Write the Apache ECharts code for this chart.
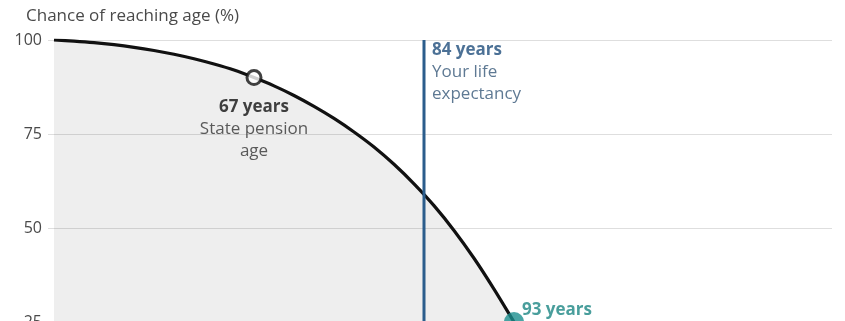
<!DOCTYPE html>
<html>
<head>
<meta charset="utf-8">
<script src="https://cdn.jsdelivr.net/npm/echarts@6/dist/echarts.min.js"></script>
<style>
html,body{margin:0;padding:0;background:#fff;}
#c{width:845px;height:321px;}
</style>
</head>
<body>
<div id="c"></div>
<script>
var ages = [47, 49, 51, 53, 55, 57, 59, 61, 63, 65, 67, 69, 71, 73, 75, 77, 79, 81, 83, 85, 87, 89, 91, 93, 95, 97, 99];
var chance = [100, 99.7, 99.3, 98.75, 98.05, 97.2, 96.2, 95.0, 93.6, 92.0, 90, 87.8, 85.25, 82.35, 79.15, 75.55, 71.55, 66.95, 61.75, 55.95, 49.35, 41.95, 33.75, 25, 16.2, 7.7, 1.7];
var yTicks = [0, 25, 50, 75, 100];
var pensionAge = 67, pensionChance = 90;
var lifeExp = 84;
var markAge = 93, markChance = 25;
var titleText = 'Chance of reaching age (%)';

var font = '"Open Sans", "Noto Sans", sans-serif';
var chart = echarts.init(document.getElementById('c'), null, {renderer: 'canvas'});
chart.setOption({
  animation: false,
  backgroundColor: '#fff',
  title: {
    text: titleText, left: 21, top: 3,
    textStyle: {fontFamily: font, fontSize: 17, fontWeight: 'normal', color: '#4a4a4a'}
  },
  grid: {left: 48, top: 40, right: 13, bottom: -95, containLabel: false, outerBoundsMode: 'none'},
  xAxis: {
    type: 'value', min: 46.4, max: 124.8, show: false
  },
  yAxis: {
    type: 'value', min: 0, max: 100, interval: 25,
    axisLine: {show: false}, axisTick: {show: false},
    axisLabel: {fontFamily: font, fontSize: 16, color: '#4a4a4a', margin: 6},
    splitLine: {lineStyle: {color: '#dedede', width: 1}}
  },
  series: [
    {
      type: 'line', data: ages.map(function(a, i){ return [a, chance[i]]; }),
      showSymbol: false, smooth: 0.3, z: 3,
      lineStyle: {color: '#111', width: 3.2},
      areaStyle: {color: 'rgba(0,0,0,0.095)', origin: 'start'}
    },
    {
      type: 'line', data: [[lifeExp, 0], [lifeExp, 100]], showSymbol: false, z: 4,
      lineStyle: {color: '#2b5d8c', width: 3}
    },
    {
      type: 'scatter', z: 6,
      data: [[pensionAge, pensionChance]],
      symbolSize: 14,
      itemStyle: {color: '#fff', borderColor: '#111', borderWidth: 3},
      label: {
        show: true, position: 'bottom', distance: 10,
        formatter: '{b|' + pensionAge + ' years}\n{n|State pension}\n{n|age}',
        rich: {
          b: {fontFamily: font, fontSize: 17, fontWeight: 'bold', color: '#111', lineHeight: 22, align: 'center'},
          n: {fontFamily: font, fontSize: 17, color: '#333', lineHeight: 22, align: 'center'}
        }
      }
    },
    {
      type: 'scatter', z: 6,
      data: [[lifeExp, 100]],
      symbolSize: 0,
      itemStyle: {color: 'transparent'},
      label: {
        show: true, position: [8, -1],
        formatter: '{b|' + lifeExp + ' years}\n{n|Your life}\n{n|expectancy}',
        rich: {
          b: {fontFamily: font, fontSize: 17, fontWeight: 'bold', color: '#1f4e7c', lineHeight: 22},
          n: {fontFamily: font, fontSize: 17, color: '#365878', lineHeight: 22}
        }
      }
    },
    {
      type: 'scatter', z: 6,
      data: [[markAge, markChance]],
      symbolSize: 20,
      itemStyle: {color: '#1b8f8f'},
      label: {
        show: true, position: [18, -13],
        formatter: '{b|' + markAge + ' years}',
        rich: {
          b: {fontFamily: font, fontSize: 17, fontWeight: 'bold', color: '#1b8683', lineHeight: 22}
        }
      }
    }
  ]
});
</script>
</body>
</html>
